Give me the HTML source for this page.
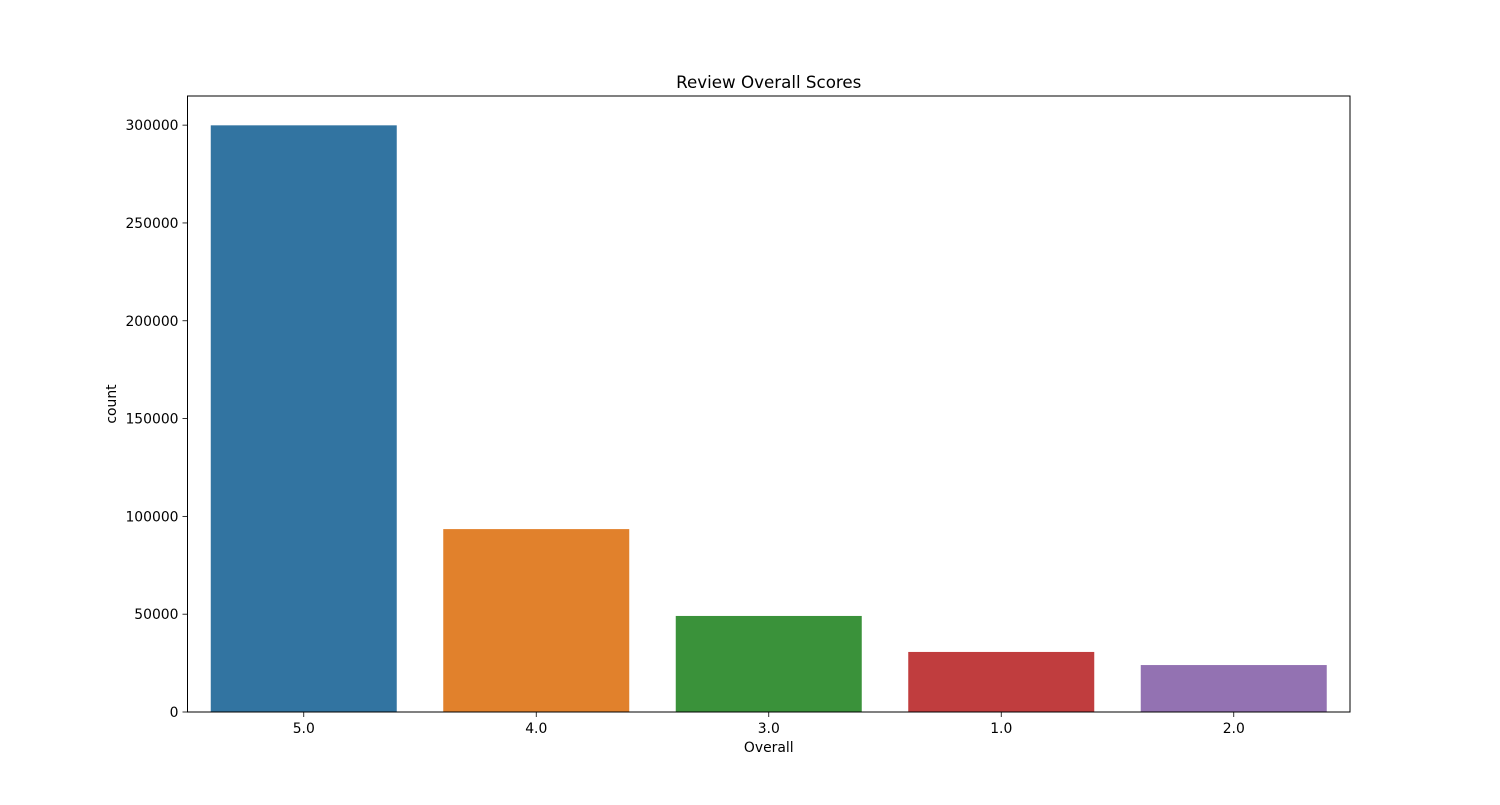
<!DOCTYPE html>
<html><head><meta charset="utf-8"><style>
body{margin:0;background:#fff;}
svg text{font-family:"DejaVu Sans","Liberation Sans",sans-serif;fill:#000;}
</style></head><body>
<svg id="chart" width="1500" height="800" xmlns="http://www.w3.org/2000/svg">
<rect width="1500" height="800" fill="#fff"/>
<g id="bars"></g>
<g id="axes"></g>
<text x="768.75" y="88" font-size="16.7" text-anchor="middle">Review Overall Scores</text>
<text x="768.75" y="752" font-size="13.9" text-anchor="middle">Overall</text>
<text transform="translate(116,404) rotate(-90)" font-size="13.9" text-anchor="middle">count</text>
</svg>
<script>
const categories = ["5.0","4.0","3.0","1.0","2.0"];
const counts = [299900, 93500, 49100, 30700, 24000];
const yTicks = [0,50000,100000,150000,200000,250000,300000];
const colors = ["#3274a1","#e1812c","#3a923a","#c03d3e","#9372b2"];

const L=187.5,R=1350,T=96,B=712;
const yMax = Math.max(...counts)*1.05;
const y = v => B - v/yMax*(B-T);
const band = (R-L)/categories.length;
const x = i => L + band*(i+0.5);
const NS="http://www.w3.org/2000/svg";
const bars=document.getElementById('bars'), axes=document.getElementById('axes');
function mk(tag,attrs,parent){const e=document.createElementNS(NS,tag);for(const k in attrs)e.setAttribute(k,attrs[k]);parent.appendChild(e);return e;}

categories.forEach((c,i)=>{
  const r=mk('rect',{x:x(i)-band*0.4,y:y(counts[i]),width:band*0.8,height:B-y(counts[i]),fill:colors[i]},bars);
  
  
  mk('line',{x1:x(i),x2:x(i),y1:B,y2:B+5,stroke:'#000','stroke-width':0.8},axes);
  const lb=mk('text',{x:x(i),y:B+21,'font-size':13.9,'text-anchor':'middle'},axes);
  lb.textContent=c;
  
  
});
yTicks.forEach(v=>{
  mk('line',{x1:L-5,x2:L,y1:y(v),y2:y(v),stroke:'#000','stroke-width':0.8},axes);
  const lb=mk('text',{x:L-9,y:y(v)+5,'font-size':13.9,'text-anchor':'end'},axes);
  lb.textContent=v;
  
  
});
const frame=mk('rect',{x:L,y:T,width:R-L,height:B-T,fill:'none',stroke:'#000','stroke-width':1},axes);


</script>
</body></html>
